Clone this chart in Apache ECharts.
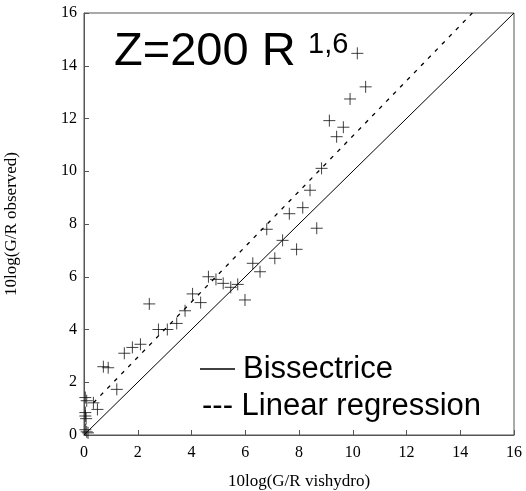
<!doctype html>
<html lang="en">
<head>
    <meta charset="UTF-8">
    <title>Z=200 R1,6</title>
    <style>
        * {
            margin: 0;
            padding: 0;
        }

        body {
            width: 526px;
            height: 491px;
            background: #fff;
        }

        #main {
            width: 526px;
            height: 491px;
        }
    </style>
</head>
<body>
<div id="main"></div>
<script src="https://cdn.jsdelivr.net/npm/echarts@6/dist/echarts.min.js"></script>
<script>
    // observed points (x = vishydro, y = observed)
    var xVals = [0.05, 0.1, 0.35, 0.5, 0.05, 0.05, 0.08, 0.05, 0.1, 0.15,
        0.72, 0.9, 1.22, 1.5, 1.8, 2.1, 2.43, 2.77, 3.1, 3.45,
        3.76, 4.04, 4.34, 4.63, 4.91, 5.18, 5.46, 5.72, 5.99, 6.28,
        6.55, 6.8, 7.1, 7.39, 7.64, 7.91, 8.14, 8.41, 8.66, 8.84,
        9.13, 9.4, 9.65, 9.9, 10.17, 10.48];
    var yVals = [1.42, 1.3, 1.22, 0.97, 0.85, 0.72, 0.62, 0.2, 0.12, 0.08,
        2.59, 2.55, 1.73, 3.1, 3.32, 3.44, 4.97, 4.0, 4.0, 4.23,
        4.71, 5.35, 5.02, 6.0, 5.9, 5.75, 5.6, 5.71, 5.12, 6.51,
        6.19, 7.8, 6.7, 7.38, 8.39, 7.04, 8.62, 9.28, 7.84, 10.11,
        11.92, 11.31, 11.67, 12.74, 14.47, 13.2];
    var bisX = [0, 16];
    var bisY = [0, 16];
    var regX = [0.35, 14.45];
    var regY = [1.22, 16];
    var ticks = [0, 2, 4, 6, 8, 10, 12, 14, 16];

    var points = [];
    for (var i = 0; i < xVals.length; i++) {
        points.push([xVals[i], yVals[i]]);
    }
    var bis = [[bisX[0], bisY[0]], [bisX[1], bisY[1]]];
    var reg = [[regX[0], regY[0]], [regX[1], regY[1]]];

    var serif = '"Liberation Serif", "DejaVu Serif", serif';
    var sans = '"Liberation Sans", Arial, sans-serif';

    var axisCommon = {
        type: 'value',
        min: ticks[0],
        max: ticks[ticks.length - 1],
        interval: 2,
        splitLine: {show: false},
        axisLine: {show: true, lineStyle: {color: '#555', width: 1}},
        axisTick: {show: true, inside: true, length: 5, lineStyle: {color: '#555'}},
        axisLabel: {color: '#000', fontFamily: serif, fontSize: 16},
        nameTextStyle: {color: '#000', fontFamily: serif, fontSize: 17}
    };

    var myChart = echarts.init(document.getElementById('main'));
    var option = {
        animation: false,
        grid: {
            left: 84, right: 12, top: 13, bottom: 56,
            outerBoundsMode: 'none',
            containLabel: false,
            show: true, borderColor: '#555', borderWidth: 1
        },
        xAxis: Object.assign({}, axisCommon, {
            name: '10log(G/R vishydro)',
            nameLocation: 'middle',
            nameGap: 38,
            axisLabel: Object.assign({}, axisCommon.axisLabel, {margin: 10})
        }),
        yAxis: Object.assign({}, axisCommon, {
            name: '10log(G/R observed)',
            nameLocation: 'middle',
            nameGap: 64,
            axisLabel: Object.assign({}, axisCommon.axisLabel, {margin: 7})
        }),
        series: [{
            type: 'line',
            data: bis,
            symbol: 'none',
            lineStyle: {color: '#000', width: 1},
            z: 1
        }, {
            type: 'line',
            data: reg,
            symbol: 'none',
            lineStyle: {color: '#000', width: 1.3, type: [4, 6]},
            z: 1
        }, {
            type: 'scatter',
            data: points,
            symbol: 'path://M0,5L10,5M5,0L5,10',
            symbolSize: 12,
            itemStyle: {color: 'transparent', borderColor: '#111', borderWidth: 1},
            z: 3
        }],
        graphic: [{
            type: 'text',
            left: 114, top: 29,
            style: {text: 'Z=200 R', font: '47px ' + sans, fill: '#000'}
        }, {
            type: 'text',
            left: 308, top: 30,
            style: {text: '1,6', font: '29px ' + sans, fill: '#000'}
        }, {
            type: 'line',
            shape: {x1: 200, y1: 369, x2: 235, y2: 369},
            style: {stroke: '#000', lineWidth: 1.5}
        }, {
            type: 'text',
            left: 243, top: 354,
            style: {text: 'Bissectrice', font: '31px ' + sans, fill: '#000'}
        }, {
            type: 'text',
            left: 202, top: 391,
            style: {text: '--- Linear regression', font: '31px ' + sans, fill: '#000'}
        }]
    };
    myChart.setOption(option);
</script>
</body>
</html>
